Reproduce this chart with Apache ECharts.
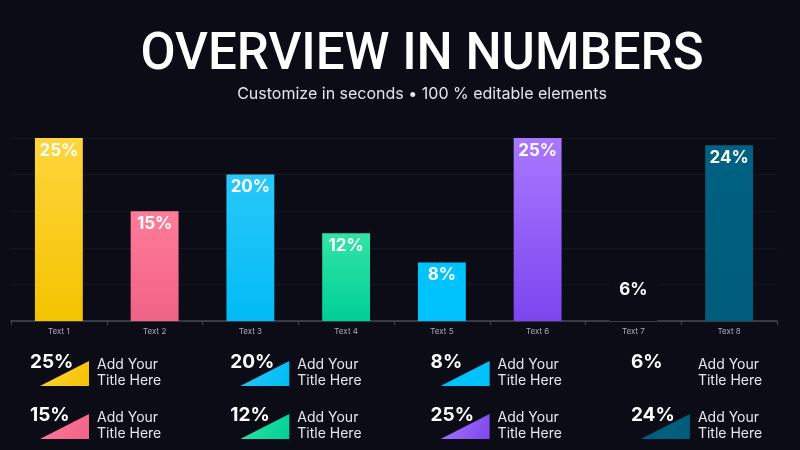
<!DOCTYPE html>
<html>
<head>
<meta charset="utf-8">
<script src="https://cdn.jsdelivr.net/npm/echarts@6/dist/echarts.min.js"></script>
<style>
  html, body { margin: 0; padding: 0; background: #0b0c16; }
  #chart { width: 800px; height: 450px; }
</style>
</head>
<body>
<div id="chart"></div>
<script>
const categories = ["Text 1", "Text 2", "Text 3", "Text 4", "Text 5", "Text 6", "Text 7", "Text 8"];
const values = [25, 15, 20, 12, 8, 25, 6, 24];
const topColors = ["#FFD53D", "#FF7C9A", "#2AC8FA", "#32E4A4", "#00C4FF", "#A978FF", "#0b0c16", "#006182"];
const bottomColors = ["#F3C300", "#F06287", "#00BBF4", "#00CF98", "#00C2FC", "#7C46EF", "#0b0c16", "#005C7C"];
const itemTitle = ["Add Your", "Title Here"];

const BG = "#0b0c16";
const chartDom = document.getElementById("chart");
const myChart = echarts.init(chartDom);

function grad(i) {
	return new echarts.graphic.LinearGradient(0, 0, 0, 1, [
		{ offset: 0, color: topColors[i] },
		{ offset: 1, color: bottomColors[i] },
	]);
}

// legend-like cards under the chart: 4 columns x 2 rows
const cards = [];
values.forEach((v, i) => {
	const col = Math.floor(i / 2);
	const row = i % 2;
	const x0 = 30 + col * 200.3;
	const y0 = row === 0 ? 362 : 415;
	const hidden = categories[i] === "Text 7";
	cards.push({
		type: "group",
		x: x0,
		y: y0,
		children: [
			{
				type: "polygon",
				z: 1,
				shape: { points: [[10, 24], [59, -1], [59, 24]] },
				style: {
					fill: hidden ? BG : new echarts.graphic.LinearGradient(0, 0, 1, 1, [
						{ offset: 0, color: topColors[i] },
						{ offset: 1, color: bottomColors[i] },
					]),
				},
			},
			{
				type: "text",
				z: 2,
				x: 0,
				y: 0,
				style: {
					text: v + "%",
					fill: "#ffffff",
					font: "700 19px Inter",
					verticalAlign: "middle",
				},
			},
			{
				type: "text",
				z: 2,
				x: 67,
				y: 11,
				style: {
					text: itemTitle[0] + "\n" + itemTitle[1],
					fill: "#e6e7ee",
					font: "400 14px Inter",
					lineHeight: 16,
					verticalAlign: "middle",
				},
			},
		],
	});
});

const option = {
	backgroundColor: BG,
	animation: false,
	title: {
		text: "OVERVIEW IN NUMBERS",
		subtext: "Customize in seconds \u2022 100 % editable elements",
		left: 417,
		textAlign: "center",
		top: 26,
		itemGap: 4,
		textStyle: { color: "#ffffff", fontFamily: "Roboto", fontWeight: 500, fontSize: 51 },
		subtextStyle: { color: "#e4e5ec", fontFamily: "Inter", fontWeight: 400, fontSize: 16 },
	},
	grid: { left: 11, right: 23, top: 138, bottom: 129, containLabel: false },
	xAxis: {
		type: "category",
		data: categories,
		axisLine: { lineStyle: { color: "#454856", width: 1.5 } },
		axisTick: { show: true, length: 4, lineStyle: { color: "#454856" } },
		axisLabel: { color: "#a9abb6", fontSize: 8, fontFamily: "Inter", margin: 7 },
	},
	yAxis: {
		type: "value",
		min: 0,
		max: 25,
		interval: 5,
		axisLabel: { show: false },
		axisLine: { show: false },
		axisTick: { show: false },
		splitLine: { lineStyle: { color: "#151824", width: 1 } },
	},
	series: [
		{
			type: "bar",
			barWidth: "50%",
			data: values.map((v, i) => ({ value: v, itemStyle: { color: grad(i) } })),
			label: {
				show: true,
				position: "insideTop",
				distance: 4,
				formatter: "{c}%",
				color: "#ffffff",
				fontFamily: "Inter",
				fontWeight: 700,
				fontSize: 17,
			},
		},
	],
	graphic: cards,
};

myChart.setOption(option);
</script>
</body>
</html>
